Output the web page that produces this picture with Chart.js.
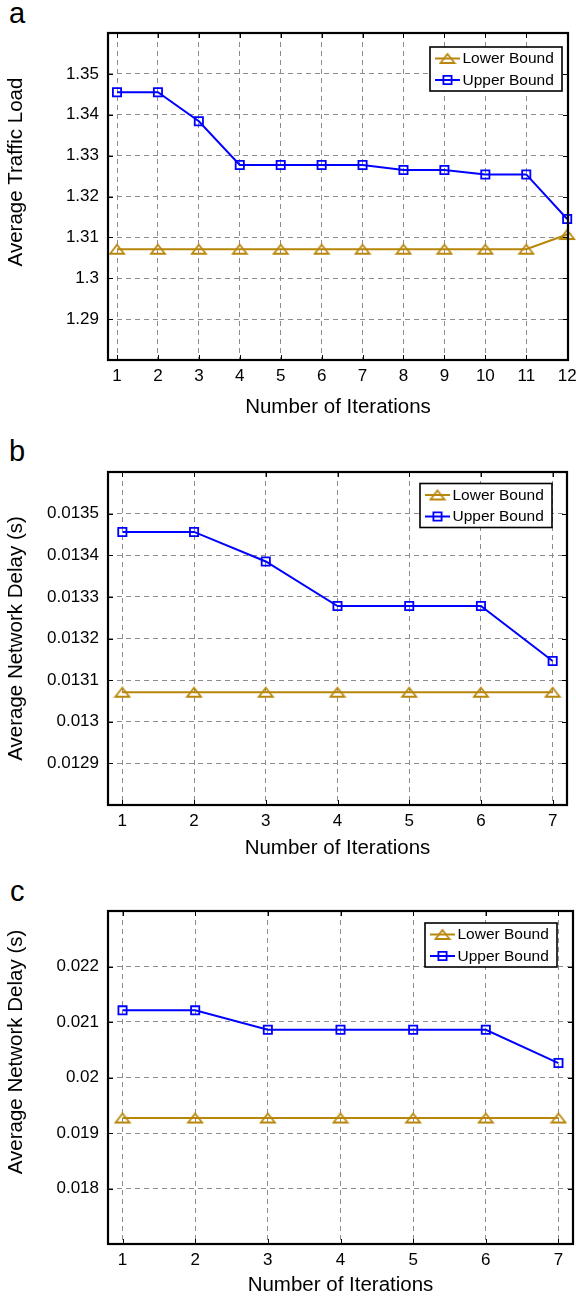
<!DOCTYPE html>
<html>
<head>
<meta charset="utf-8">
<script src="https://cdn.jsdelivr.net/npm/chart.js@4/dist/chart.umd.min.js"></script>
<style>
html,body{margin:0;padding:0;background:#fff;}
body{width:576px;height:1298px;position:relative;overflow:hidden;font-family:'Liberation Sans',Arial,Helvetica,sans-serif;}
canvas{position:absolute;left:0;}
.lbl{position:absolute;font-size:29px;line-height:29px;color:#000;}
</style>
</head>
<body>
<div class="lbl" style="left:9px;top:-1px;">a</div>
<div class="lbl" style="left:9px;top:437px;">b</div>
<div class="lbl" style="left:10px;top:877px;">c</div>
<canvas id="ca" width="576" height="430" style="top:0px"></canvas>
<canvas id="cb" width="576" height="430" style="top:435px"></canvas>
<canvas id="cc" width="576" height="432" style="top:866px"></canvas>
<script>
// ---------------- data ----------------
const seriesNames = ['Lower Bound', 'Upper Bound'];
const xTitle = 'Number of Iterations';

const aYTitle = 'Average Traffic Load';
const aIterations = [1, 2, 3, 4, 5, 6, 7, 8, 9, 10, 11, 12];
const aLowerBound = [1.3071, 1.3071, 1.3071, 1.3071, 1.3071, 1.3071, 1.3071, 1.3071, 1.3071, 1.3071, 1.3071, 1.3107];
const aUpperBound = [1.3455, 1.3455, 1.3384, 1.3277, 1.3277, 1.3277, 1.3277, 1.3265, 1.3265, 1.3254, 1.3254, 1.3145];
const aYTicks = [1.29, 1.3, 1.31, 1.32, 1.33, 1.34, 1.35];

const bYTitle = 'Average Network Delay (s)';
const bIterations = [1, 2, 3, 4, 5, 6, 7];
const bLowerBound = [0.013071, 0.013071, 0.013071, 0.013071, 0.013071, 0.013071, 0.013071];
const bUpperBound = [0.013456, 0.013456, 0.013385, 0.013278, 0.013278, 0.013278, 0.013146];
const bYTicks = [0.0129, 0.013, 0.0131, 0.0132, 0.0133, 0.0134, 0.0135];

const cYTitle = 'Average Network Delay (s)';
const cIterations = [1, 2, 3, 4, 5, 6, 7];
const cLowerBound = [0.01927, 0.01927, 0.01927, 0.01927, 0.01927, 0.01927, 0.01927];
const cUpperBound = [0.02121, 0.02121, 0.02086, 0.02086, 0.02086, 0.02086, 0.02026];
const cYTicks = [0.018, 0.019, 0.02, 0.021, 0.022];

// ---------------- styling ----------------
const FONT = "'Liberation Sans', Arial, Helvetica, sans-serif";
Chart.defaults.font.family = FONT;
Chart.defaults.color = '#000';
const GOLD = '#b8860b';
const BLUE = '#0000ff';
const GRID = '#8c8c8c';

function triangleImage(color) {
  const c = document.createElement('canvas');
  c.width = 18; c.height = 15;
  const g = c.getContext('2d');
  g.strokeStyle = color; g.lineWidth = 1.8; g.lineJoin = 'miter';
  g.beginPath();
  g.moveTo(9, 3); g.lineTo(16, 12); g.lineTo(2, 12); g.closePath();
  g.stroke();
  return c;
}
const triImg = triangleImage(GOLD);

function drawMarker(ctx, style, r, x, y) {
  if (style instanceof HTMLCanvasElement) {
    ctx.drawImage(style, x - style.width / 2, y - style.height / 2);
    return;
  }
  const s = Math.SQRT1_2 * r;
  ctx.beginPath();
  ctx.rect(x - s, y - s, 2 * s, 2 * s);
  ctx.stroke();
}

const framePlugin = {
  id: 'frame',
  afterDatasetsDraw(chart) {
    const o = chart.options.plugins.frame;
    const {ctx, chartArea: ca, scales: {x, y}} = chart;
    ctx.save();
    // inner tick marks
    ctx.strokeStyle = '#000'; ctx.lineWidth = 1; ctx.setLineDash([]);
    ctx.beginPath();
    x.ticks.forEach(t => {
      const px = Math.round(x.getPixelForValue(t.value)) + 0.5;
      ctx.moveTo(px, ca.bottom); ctx.lineTo(px, ca.bottom - 5);
      ctx.moveTo(px, ca.top); ctx.lineTo(px, ca.top + 5);
    });
    y.ticks.forEach(t => {
      const py = Math.round(y.getPixelForValue(t.value)) + 0.5;
      ctx.moveTo(ca.left, py); ctx.lineTo(ca.left + 5, py);
      ctx.moveTo(ca.right, py); ctx.lineTo(ca.right - 5, py);
    });
    ctx.stroke();
    // box
    ctx.lineWidth = 2.2;
    ctx.strokeRect(ca.left, ca.top, ca.right - ca.left, ca.bottom - ca.top);
    // y title
    ctx.save();
    ctx.translate(o.yTitleX, (ca.top + ca.bottom) / 2 + o.yTitleDy);
    ctx.rotate(-Math.PI / 2);
    ctx.font = '20.5px ' + FONT;
    ctx.fillStyle = '#000';
    ctx.textAlign = 'center';
    ctx.textBaseline = 'middle';
    ctx.fillText(o.yTitle, 0, 0);
    ctx.restore();
    // legend
    const W = 132, H = 44;
    const L = ca.right - o.legendRight - W;
    const T = ca.top + o.legendTop;
    ctx.fillStyle = '#fff';
    ctx.fillRect(L, T, W, H);
    ctx.lineWidth = 1.6; ctx.strokeStyle = '#000';
    ctx.strokeRect(L, T, W, H);
    chart.data.datasets.forEach((ds, i) => {
      const ry = T + 11.5 + i * 21.5;
      ctx.strokeStyle = ds.borderColor; ctx.lineWidth = 2;
      ctx.beginPath(); ctx.moveTo(L + 5, ry); ctx.lineTo(L + 30, ry); ctx.stroke();
      ctx.lineWidth = ds.pointBorderWidth;
      drawMarker(ctx, ds.pointStyle, ds.pointRadius, L + 17.5, ry);
      ctx.fillStyle = '#000';
      ctx.font = '15.5px ' + FONT;
      ctx.textAlign = 'left'; ctx.textBaseline = 'middle';
      ctx.fillText(ds.label, L + 32.5, ry + 0.5);
    });
    ctx.restore();
  }
};

function build(id, p) {
  const pts = (xs, ys) => xs.map((v, i) => ({x: v, y: ys[i]}));
  return new Chart(document.getElementById(id), {
    type: 'line',
    data: {
      datasets: [
        {label: seriesNames[0], data: pts(p.xs, p.lower), borderColor: GOLD, backgroundColor: 'rgba(0,0,0,0)',
         borderWidth: 2, pointStyle: triImg, pointRadius: 7, pointBorderWidth: 1.8, pointBorderColor: GOLD,
         pointBackgroundColor: 'rgba(0,0,0,0)', tension: 0, clip: 12},
        {label: seriesNames[1], data: pts(p.xs, p.upper), borderColor: BLUE, backgroundColor: 'rgba(0,0,0,0)',
         borderWidth: 2, pointStyle: 'rect', pointRadius: 5.8, pointBorderWidth: 1.8, pointBorderColor: BLUE,
         pointBackgroundColor: 'rgba(0,0,0,0)', tension: 0, clip: 12}
      ]
    },
    options: {
      responsive: false, animation: false, devicePixelRatio: 1,
      layout: {autoPadding: false, padding: {top: p.padTop, right: p.padRight, bottom: 0, left: 0}},
      plugins: {
        legend: {display: false}, tooltip: {enabled: false},
        frame: {yTitle: p.yTitle, yTitleX: 16.5, yTitleDy: p.yTitleDy, legendRight: p.legendRight, legendTop: p.legendTop}
      },
      scales: {
        x: {
          type: 'linear', min: p.xMin, max: p.xMax,
          afterBuildTicks: s => { s.ticks = p.xs.map(v => ({value: v})); },
          afterFit: s => { s.height = p.xH; s.paddingLeft = 0; s.paddingRight = 0; },
          ticks: {padding: 6, font: {size: 17}, color: '#000', maxRotation: 0, autoSkip: false, callback: v => String(v)},
          grid: {color: GRID, lineWidth: 1, drawTicks: false},
          border: {display: false, dash: [5, 4]},
          title: {display: true, text: xTitle, font: {size: 20.5}, color: '#000', padding: {top: 0, bottom: p.xTitlePad}}
        },
        y: {
          type: 'linear', min: p.yMin, max: p.yMax,
          afterBuildTicks: s => { s.ticks = p.yTicks.map(v => ({value: v})); },
          afterFit: s => { s.width = 108; s.paddingTop = 0; s.paddingBottom = 0; },
          ticks: {padding: 9, font: {size: 17}, color: '#000', autoSkip: false, callback: v => String(v)},
          grid: {color: GRID, lineWidth: 1, drawTicks: false},
          border: {display: false, dash: [5, 4]},
          title: {display: false}
        }
      }
    },
    plugins: [framePlugin]
  });
}

build('ca', {xs: aIterations, lower: aLowerBound, upper: aUpperBound, xMin: 0.78, xMax: 12.02,
  yMin: 1.28, yMax: 1.36, yTicks: aYTicks, yTitle: aYTitle, yTitleDy: -24.5,
  padTop: 33, padRight: 8, xH: 70, xTitlePad: 10.7, legendRight: 6, legendTop: 14});
build('cb', {xs: bIterations, lower: bLowerBound, upper: bUpperBound, xMin: 0.8, xMax: 7.2,
  yMin: 0.0128, yMax: 0.0136, yTicks: bYTicks, yTitle: bYTitle, yTitleDy: 0,
  padTop: 37, padRight: 9, xH: 60, xTitlePad: 4.7, legendRight: 15, legendTop: 11.5});
build('cc', {xs: cIterations, lower: cLowerBound, upper: cUpperBound, xMin: 0.8, xMax: 7.2,
  yMin: 0.017, yMax: 0.023, yTicks: cYTicks, yTitle: cYTitle, yTitleDy: -25.5,
  padTop: 45, padRight: 3, xH: 54, xTitlePad: 0.7, legendRight: 16, legendTop: 12});
</script>
</body>
</html>
